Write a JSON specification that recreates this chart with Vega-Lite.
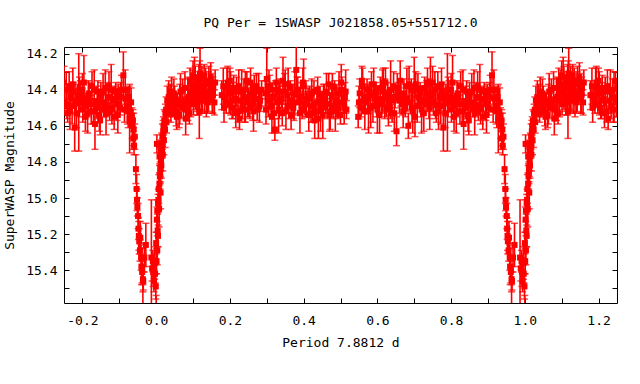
{
"$schema": "https://vega.github.io/schema/vega-lite/v6.json",
"width": 553, "height": 256,
"autosize": "none",
"padding": {"left": 64, "top": 47, "right": 23, "bottom": 81},
"background": "white",
"config": {"view": {"stroke": "black", "strokeWidth": 1}, "font": "DejaVu Sans Mono"},
"title": {"text": "PQ Per = 1SWASP J021858.05+551712.0", "fontSize": 13, "fontWeight": "normal", "font": "DejaVu Sans Mono", "color": "black", "offset": 17},
"datasets": {"d": [
{"p":-0.248,"m":14.47,"e":0.07},{"p":-0.244,"m":14.40,"e":0.10},{"p":-0.240,"m":14.53,"e":0.05},{"p":-0.236,"m":14.38,"e":0.08},{"p":-0.232,"m":14.44,"e":0.06},{"p":-0.228,"m":14.49,"e":0.10},{"p":-0.224,"m":14.41,"e":0.05},{"p":-0.221,"m":14.61,"e":0.13},{"p":-0.218,"m":14.46,"e":0.07},{"p":-0.214,"m":14.43,"e":0.06},{"p":-0.210,"m":14.47,"e":0.27},{"p":-0.206,"m":14.40,"e":0.05},
{"p":-0.202,"m":14.44,"e":0.05},{"p":-0.199,"m":14.51,"e":0.07},{"p":-0.196,"m":14.36,"e":0.15},{"p":-0.193,"m":14.49,"e":0.06},{"p":-0.190,"m":14.46,"e":0.04},{"p":-0.186,"m":14.53,"e":0.11},{"p":-0.182,"m":14.42,"e":0.06},{"p":-0.178,"m":14.48,"e":0.05},{"p":-0.174,"m":14.38,"e":0.08},{"p":-0.170,"m":14.52,"e":0.07},{"p":-0.166,"m":14.59,"e":0.14},{"p":-0.162,"m":14.50,"e":0.05},{"p":-0.158,"m":14.41,"e":0.06},{"p":-0.154,"m":14.54,"e":0.09},{"p":-0.150,"m":14.43,"e":0.07},{"p":-0.146,"m":14.47,"e":0.05},{"p":-0.142,"m":14.51,"e":0.04},{"p":-0.138,"m":14.39,"e":0.10},{"p":-0.134,"m":14.49,"e":0.06},{"p":-0.130,"m":14.44,"e":0.08},{"p":-0.126,"m":14.52,"e":0.05},{"p":-0.122,"m":14.40,"e":0.14},{"p":-0.118,"m":14.46,"e":0.06},{"p":-0.114,"m":14.55,"e":0.07},{"p":-0.110,"m":14.41,"e":0.05},{"p":-0.106,"m":14.48,"e":0.09},{"p":-0.102,"m":14.43,"e":0.06},{"p":-0.098,"m":14.50,"e":0.04},{"p":-0.094,"m":14.40,"e":0.08},{"p":-0.089,"m":14.32,"e":0.13},{"p":-0.086,"m":14.51,"e":0.07},{"p":-0.082,"m":14.45,"e":0.05},{"p":-0.078,"m":14.49,"e":0.10},{"p":-0.074,"m":14.44,"e":0.06},{"p":-0.072,"m":14.56,"e":0.19},
{"p":-0.070,"m":14.52,"e":0.06},{"p":-0.068,"m":14.47,"e":0.08},{"p":-0.066,"m":14.55,"e":0.05},{"p":-0.065,"m":14.60,"e":0.07},{"p":-0.063,"m":14.57,"e":0.06},{"p":-0.062,"m":14.67,"e":0.06},{"p":-0.061,"m":14.62,"e":0.09},{"p":-0.060,"m":14.71,"e":0.05},{"p":-0.058,"m":14.66,"e":0.07},{"p":-0.055,"m":14.84,"e":0.08},{"p":-0.053,"m":14.95,"e":0.08},{"p":-0.052,"m":15.01,"e":0.06},{"p":-0.051,"m":15.05,"e":0.05},{"p":-0.049,"m":15.10,"e":0.07},{"p":-0.048,"m":15.17,"e":0.06},{"p":-0.047,"m":15.21,"e":0.08},{"p":-0.046,"m":15.24,"e":0.07},{"p":-0.044,"m":15.29,"e":0.06},{"p":-0.043,"m":15.22,"e":0.09},{"p":-0.041,"m":15.33,"e":0.07},{"p":-0.040,"m":15.38,"e":0.10},{"p":-0.038,"m":15.41,"e":0.06},{"p":-0.036,"m":15.45,"e":0.07},{"p":-0.036,"m":15.62,"e":0.14},{"p":-0.035,"m":15.46,"e":0.05},{"p":-0.032,"m":15.33,"e":0.08},{"p":-0.028,"m":15.26,"e":0.12},
{"p":-0.013,"m":15.33,"e":0.32},{"p":-0.011,"m":15.39,"e":0.07},{"p":-0.009,"m":15.35,"e":0.06},{"p":-0.008,"m":15.41,"e":0.08},{"p":-0.006,"m":15.46,"e":0.06},{"p":-0.004,"m":15.36,"e":0.09},{"p":-0.003,"m":15.42,"e":0.05},{"p":-0.001,"m":15.49,"e":0.07},
{"p":0.000,"m":15.62,"e":0.08},{"p":0.000,"m":15.25,"e":0.06},{"p":0.001,"m":15.35,"e":0.07},{"p":0.002,"m":15.12,"e":0.07},{"p":0.002,"m":14.70,"e":0.05},{"p":0.003,"m":15.07,"e":0.06},{"p":0.003,"m":15.29,"e":0.08},{"p":0.004,"m":15.18,"e":0.09},{"p":0.005,"m":15.03,"e":0.05},{"p":0.005,"m":15.21,"e":0.06},{"p":0.006,"m":15.01,"e":0.06},{"p":0.007,"m":14.95,"e":0.08},{"p":0.008,"m":15.06,"e":0.10},{"p":0.009,"m":14.92,"e":0.06},{"p":0.009,"m":14.77,"e":0.05},{"p":0.010,"m":14.88,"e":0.07},{"p":0.011,"m":14.86,"e":0.06},{"p":0.011,"m":14.83,"e":0.08},{"p":0.012,"m":14.97,"e":0.09},{"p":0.013,"m":14.79,"e":0.06},{"p":0.013,"m":14.73,"e":0.05},{"p":0.014,"m":14.82,"e":0.07},{"p":0.015,"m":14.70,"e":0.06},{"p":0.016,"m":14.73,"e":0.05},{"p":0.017,"m":14.66,"e":0.07},{"p":0.018,"m":14.76,"e":0.09},{"p":0.019,"m":14.63,"e":0.06},{"p":0.020,"m":14.60,"e":0.05},{"p":0.021,"m":14.68,"e":0.08},{"p":0.022,"m":14.57,"e":0.06},{"p":0.024,"m":14.62,"e":0.10},{"p":0.025,"m":14.53,"e":0.05},{"p":0.027,"m":14.51,"e":0.07},{"p":0.028,"m":14.58,"e":0.06},{"p":0.030,"m":14.46,"e":0.08},{"p":0.032,"m":14.52,"e":0.05},{"p":0.034,"m":14.44,"e":0.09},{"p":0.036,"m":14.49,"e":0.06},{"p":0.038,"m":14.44,"e":0.07},{"p":0.040,"m":14.53,"e":0.05},{"p":0.042,"m":14.41,"e":0.08},{"p":0.044,"m":14.47,"e":0.06},
{"p":0.046,"m":14.49,"e":0.06},{"p":0.050,"m":14.43,"e":0.05},{"p":0.054,"m":14.52,"e":0.08},{"p":0.058,"m":14.46,"e":0.04},{"p":0.062,"m":14.54,"e":0.07},{"p":0.066,"m":14.41,"e":0.10},{"p":0.070,"m":14.47,"e":0.05},{"p":0.074,"m":14.50,"e":0.06},{"p":0.078,"m":14.39,"e":0.09},{"p":0.082,"m":14.51,"e":0.05},{"p":0.086,"m":14.45,"e":0.12},{"p":0.090,"m":14.53,"e":0.06},
{"p":0.092,"m":14.35,"e":0.07},{"p":0.095,"m":14.41,"e":0.04},{"p":0.098,"m":14.37,"e":0.08},{"p":0.101,"m":14.48,"e":0.06},{"p":0.104,"m":14.33,"e":0.11},{"p":0.107,"m":14.42,"e":0.05},{"p":0.110,"m":14.45,"e":0.07},{"p":0.113,"m":14.36,"e":0.06},{"p":0.116,"m":14.40,"e":0.14},{"p":0.117,"m":14.52,"e":0.15},{"p":0.119,"m":14.31,"e":0.14},{"p":0.122,"m":14.43,"e":0.08},{"p":0.125,"m":14.46,"e":0.06},{"p":0.128,"m":14.38,"e":0.05},{"p":0.131,"m":14.44,"e":0.09},{"p":0.134,"m":14.35,"e":0.07},{"p":0.137,"m":14.41,"e":0.04},{"p":0.140,"m":14.47,"e":0.06},{"p":0.143,"m":14.37,"e":0.10},{"p":0.146,"m":14.42,"e":0.06},{"p":0.149,"m":14.36,"e":0.05},{"p":0.152,"m":14.45,"e":0.08},{"p":0.155,"m":14.39,"e":0.04},{"p":0.158,"m":14.47,"e":0.07},
{"p":0.178,"m":14.43,"e":0.08},
{"p":0.182,"m":14.38,"e":0.10},{"p":0.186,"m":14.44,"e":0.05},{"p":0.190,"m":14.47,"e":0.06},{"p":0.194,"m":14.36,"e":0.09},{"p":0.198,"m":14.48,"e":0.05},{"p":0.202,"m":14.42,"e":0.12},{"p":0.206,"m":14.50,"e":0.06},{"p":0.210,"m":14.39,"e":0.07},{"p":0.214,"m":14.45,"e":0.04},{"p":0.218,"m":14.41,"e":0.08},{"p":0.222,"m":14.52,"e":0.06},{"p":0.226,"m":14.56,"e":0.06},{"p":0.230,"m":14.46,"e":0.05},{"p":0.234,"m":14.49,"e":0.07},{"p":0.238,"m":14.40,"e":0.06},{"p":0.242,"m":14.44,"e":0.14},{"p":0.246,"m":14.35,"e":0.05},{"p":0.250,"m":14.47,"e":0.08},{"p":0.254,"m":14.50,"e":0.06},{"p":0.258,"m":14.42,"e":0.05},{"p":0.262,"m":14.48,"e":0.09},{"p":0.266,"m":14.39,"e":0.07},{"p":0.270,"m":14.45,"e":0.04},{"p":0.274,"m":14.51,"e":0.06},{"p":0.278,"m":14.41,"e":0.10},{"p":0.282,"m":14.46,"e":0.06},{"p":0.286,"m":14.40,"e":0.05},
{"p":0.296,"m":14.42,"e":0.07},{"p":0.300,"m":14.34,"e":0.17},{"p":0.304,"m":14.46,"e":0.09},{"p":0.308,"m":14.38,"e":0.06},{"p":0.312,"m":14.49,"e":0.04},{"p":0.316,"m":14.44,"e":0.08},{"p":0.320,"m":14.53,"e":0.11},{"p":0.322,"m":14.62,"e":0.06},{"p":0.324,"m":14.40,"e":0.05},{"p":0.328,"m":14.47,"e":0.06},{"p":0.332,"m":14.51,"e":0.13},{"p":0.336,"m":14.41,"e":0.07},{"p":0.340,"m":14.45,"e":0.05},{"p":0.344,"m":14.35,"e":0.13},{"p":0.348,"m":14.37,"e":0.06},{"p":0.352,"m":14.52,"e":0.10},{"p":0.356,"m":14.43,"e":0.05},{"p":0.360,"m":14.49,"e":0.07},{"p":0.364,"m":14.39,"e":0.04},{"p":0.368,"m":14.46,"e":0.09},{"p":0.372,"m":14.50,"e":0.06},{"p":0.376,"m":14.42,"e":0.12},{"p":0.380,"m":14.29,"e":0.15},{"p":0.384,"m":14.40,"e":0.07},{"p":0.388,"m":14.47,"e":0.06},{"p":0.392,"m":14.44,"e":0.08},{"p":0.396,"m":14.51,"e":0.05},{"p":0.400,"m":14.38,"e":0.15},{"p":0.404,"m":14.48,"e":0.06},{"p":0.408,"m":14.48,"e":0.07},{"p":0.412,"m":14.44,"e":0.05},{"p":0.416,"m":14.45,"e":0.07},{"p":0.420,"m":14.53,"e":0.05},{"p":0.424,"m":14.49,"e":0.09},{"p":0.428,"m":14.41,"e":0.06},{"p":0.432,"m":14.52,"e":0.04},{"p":0.436,"m":14.47,"e":0.08},{"p":0.440,"m":14.56,"e":0.11},{"p":0.444,"m":14.43,"e":0.05},{"p":0.448,"m":14.50,"e":0.06},{"p":0.452,"m":14.54,"e":0.13},{"p":0.456,"m":14.44,"e":0.07},{"p":0.460,"m":14.48,"e":0.05},{"p":0.464,"m":14.48,"e":0.08},{"p":0.468,"m":14.37,"e":0.06},{"p":0.472,"m":14.52,"e":0.10},{"p":0.476,"m":14.43,"e":0.05},{"p":0.480,"m":14.49,"e":0.07},{"p":0.484,"m":14.39,"e":0.04},{"p":0.488,"m":14.46,"e":0.09},{"p":0.492,"m":14.50,"e":0.06},{"p":0.496,"m":14.42,"e":0.12},{"p":0.500,"m":14.54,"e":0.05},{"p":0.504,"m":14.40,"e":0.07},{"p":0.508,"m":14.47,"e":0.06},{"p":0.512,"m":14.44,"e":0.08},{"p":0.516,"m":14.51,"e":0.05},
{"p":0.548,"m":14.55,"e":0.06},{"p":0.552,"m":14.42,"e":0.08},{"p":0.556,"m":14.50,"e":0.05},{"p":0.560,"m":14.38,"e":0.10},{"p":0.564,"m":14.45,"e":0.07},{"p":0.568,"m":14.47,"e":0.04},{"p":0.572,"m":14.40,"e":0.06},{"p":0.576,"m":14.52,"e":0.12},{"p":0.580,"m":14.43,"e":0.05},{"p":0.584,"m":14.37,"e":0.07},{"p":0.588,"m":14.49,"e":0.09},{"p":0.592,"m":14.44,"e":0.06},{"p":0.596,"m":14.41,"e":0.05},{"p":0.600,"m":14.51,"e":0.13},{"p":0.604,"m":14.46,"e":0.07},{"p":0.608,"m":14.39,"e":0.06},{"p":0.612,"m":14.48,"e":0.04},{"p":0.616,"m":14.36,"e":0.08},{"p":0.620,"m":14.45,"e":0.11},{"p":0.624,"m":14.50,"e":0.05},{"p":0.628,"m":14.42,"e":0.06},{"p":0.632,"m":14.47,"e":0.07},{"p":0.636,"m":14.40,"e":0.16},{"p":0.640,"m":14.53,"e":0.05},{"p":0.644,"m":14.38,"e":0.08},{"p":0.648,"m":14.44,"e":0.06},{"p":0.652,"m":14.63,"e":0.08},{"p":0.656,"m":14.41,"e":0.05},{"p":0.660,"m":14.46,"e":0.07},{"p":0.664,"m":14.43,"e":0.06},{"p":0.668,"m":14.48,"e":0.06},{"p":0.672,"m":14.42,"e":0.08},{"p":0.676,"m":14.50,"e":0.05},{"p":0.680,"m":14.38,"e":0.10},{"p":0.684,"m":14.60,"e":0.07},{"p":0.688,"m":14.47,"e":0.04},{"p":0.692,"m":14.40,"e":0.06},{"p":0.696,"m":14.52,"e":0.12},{"p":0.700,"m":14.38,"e":0.16},{"p":0.704,"m":14.37,"e":0.07},{"p":0.708,"m":14.49,"e":0.09},{"p":0.712,"m":14.44,"e":0.06},{"p":0.716,"m":14.41,"e":0.05},{"p":0.720,"m":14.51,"e":0.13},{"p":0.724,"m":14.46,"e":0.07},{"p":0.728,"m":14.39,"e":0.06},{"p":0.732,"m":14.48,"e":0.04},{"p":0.736,"m":14.36,"e":0.08},{"p":0.740,"m":14.45,"e":0.11},{"p":0.744,"m":14.37,"e":0.15},{"p":0.748,"m":14.42,"e":0.06},
{"p":0.752,"m":14.47,"e":0.07},{"p":0.756,"m":14.40,"e":0.10},{"p":0.760,"m":14.53,"e":0.05},{"p":0.764,"m":14.38,"e":0.08},{"p":0.768,"m":14.44,"e":0.06},{"p":0.772,"m":14.49,"e":0.10},{"p":0.776,"m":14.41,"e":0.05},{"p":0.779,"m":14.61,"e":0.13},{"p":0.782,"m":14.46,"e":0.07},{"p":0.786,"m":14.43,"e":0.06},{"p":0.790,"m":14.47,"e":0.27},{"p":0.794,"m":14.40,"e":0.05},
{"p":0.798,"m":14.44,"e":0.05},{"p":0.801,"m":14.51,"e":0.07},{"p":0.804,"m":14.36,"e":0.15},{"p":0.807,"m":14.49,"e":0.06},{"p":0.810,"m":14.46,"e":0.04},{"p":0.814,"m":14.53,"e":0.11},{"p":0.818,"m":14.42,"e":0.06},{"p":0.822,"m":14.48,"e":0.05},{"p":0.826,"m":14.38,"e":0.08},{"p":0.830,"m":14.52,"e":0.07},{"p":0.834,"m":14.59,"e":0.14},{"p":0.838,"m":14.50,"e":0.05},{"p":0.842,"m":14.41,"e":0.06},{"p":0.846,"m":14.54,"e":0.09},{"p":0.850,"m":14.43,"e":0.07},{"p":0.854,"m":14.47,"e":0.05},{"p":0.858,"m":14.51,"e":0.04},{"p":0.862,"m":14.39,"e":0.10},{"p":0.866,"m":14.49,"e":0.06},{"p":0.870,"m":14.44,"e":0.08},{"p":0.874,"m":14.52,"e":0.05},{"p":0.878,"m":14.40,"e":0.14},{"p":0.882,"m":14.46,"e":0.06},{"p":0.886,"m":14.55,"e":0.07},{"p":0.890,"m":14.41,"e":0.05},{"p":0.894,"m":14.48,"e":0.09},{"p":0.898,"m":14.43,"e":0.06},{"p":0.902,"m":14.50,"e":0.04},{"p":0.906,"m":14.40,"e":0.08},{"p":0.911,"m":14.32,"e":0.13},{"p":0.914,"m":14.51,"e":0.07},{"p":0.918,"m":14.45,"e":0.05},{"p":0.922,"m":14.49,"e":0.10},{"p":0.926,"m":14.44,"e":0.06},{"p":0.928,"m":14.56,"e":0.19},
{"p":0.930,"m":14.52,"e":0.06},{"p":0.932,"m":14.47,"e":0.08},{"p":0.934,"m":14.55,"e":0.05},{"p":0.935,"m":14.60,"e":0.07},{"p":0.937,"m":14.57,"e":0.06},{"p":0.938,"m":14.67,"e":0.06},{"p":0.939,"m":14.62,"e":0.09},{"p":0.940,"m":14.71,"e":0.05},{"p":0.942,"m":14.66,"e":0.07},{"p":0.945,"m":14.84,"e":0.08},{"p":0.947,"m":14.95,"e":0.08},{"p":0.948,"m":15.01,"e":0.06},{"p":0.949,"m":15.05,"e":0.05},{"p":0.951,"m":15.10,"e":0.07},{"p":0.952,"m":15.17,"e":0.06},{"p":0.953,"m":15.21,"e":0.08},{"p":0.954,"m":15.24,"e":0.07},{"p":0.956,"m":15.29,"e":0.06},{"p":0.957,"m":15.22,"e":0.09},{"p":0.959,"m":15.33,"e":0.07},{"p":0.960,"m":15.38,"e":0.10},{"p":0.962,"m":15.41,"e":0.06},{"p":0.964,"m":15.45,"e":0.07},{"p":0.964,"m":15.62,"e":0.14},{"p":0.965,"m":15.46,"e":0.05},{"p":0.968,"m":15.33,"e":0.08},{"p":0.972,"m":15.26,"e":0.12},
{"p":0.987,"m":15.33,"e":0.32},{"p":0.989,"m":15.39,"e":0.07},{"p":0.991,"m":15.35,"e":0.06},{"p":0.992,"m":15.41,"e":0.08},{"p":0.994,"m":15.46,"e":0.06},{"p":0.996,"m":15.36,"e":0.09},{"p":0.997,"m":15.42,"e":0.05},{"p":0.999,"m":15.49,"e":0.07},
{"p":1.000,"m":15.62,"e":0.08},{"p":1.000,"m":15.25,"e":0.06},{"p":1.001,"m":15.35,"e":0.07},{"p":1.002,"m":15.12,"e":0.07},{"p":1.002,"m":14.70,"e":0.05},{"p":1.003,"m":15.07,"e":0.06},{"p":1.003,"m":15.29,"e":0.08},{"p":1.004,"m":15.18,"e":0.09},{"p":1.005,"m":15.03,"e":0.05},{"p":1.005,"m":15.21,"e":0.06},{"p":1.006,"m":15.01,"e":0.06},{"p":1.007,"m":14.95,"e":0.08},{"p":1.008,"m":15.06,"e":0.10},{"p":1.009,"m":14.92,"e":0.06},{"p":1.009,"m":14.77,"e":0.05},{"p":1.010,"m":14.88,"e":0.07},{"p":1.011,"m":14.86,"e":0.06},{"p":1.011,"m":14.83,"e":0.08},{"p":1.012,"m":14.97,"e":0.09},{"p":1.013,"m":14.79,"e":0.06},{"p":1.013,"m":14.73,"e":0.05},{"p":1.014,"m":14.82,"e":0.07},{"p":1.015,"m":14.70,"e":0.06},{"p":1.016,"m":14.73,"e":0.05},{"p":1.017,"m":14.66,"e":0.07},{"p":1.018,"m":14.76,"e":0.09},{"p":1.019,"m":14.63,"e":0.06},{"p":1.020,"m":14.60,"e":0.05},{"p":1.021,"m":14.68,"e":0.08},{"p":1.022,"m":14.57,"e":0.06},{"p":1.024,"m":14.62,"e":0.10},{"p":1.025,"m":14.53,"e":0.05},{"p":1.027,"m":14.51,"e":0.07},{"p":1.028,"m":14.58,"e":0.06},{"p":1.030,"m":14.46,"e":0.08},{"p":1.032,"m":14.52,"e":0.05},{"p":1.034,"m":14.44,"e":0.09},{"p":1.036,"m":14.49,"e":0.06},{"p":1.038,"m":14.44,"e":0.07},{"p":1.040,"m":14.53,"e":0.05},{"p":1.042,"m":14.41,"e":0.08},{"p":1.044,"m":14.47,"e":0.06},
{"p":1.046,"m":14.49,"e":0.06},{"p":1.050,"m":14.43,"e":0.05},{"p":1.054,"m":14.52,"e":0.08},{"p":1.058,"m":14.46,"e":0.04},{"p":1.062,"m":14.54,"e":0.07},{"p":1.066,"m":14.41,"e":0.10},{"p":1.070,"m":14.47,"e":0.05},{"p":1.074,"m":14.50,"e":0.06},{"p":1.078,"m":14.39,"e":0.09},{"p":1.082,"m":14.51,"e":0.05},{"p":1.086,"m":14.45,"e":0.12},{"p":1.090,"m":14.53,"e":0.06},
{"p":1.092,"m":14.35,"e":0.07},{"p":1.095,"m":14.41,"e":0.04},{"p":1.098,"m":14.37,"e":0.08},{"p":1.101,"m":14.48,"e":0.06},{"p":1.104,"m":14.33,"e":0.11},{"p":1.107,"m":14.42,"e":0.05},{"p":1.110,"m":14.45,"e":0.07},{"p":1.113,"m":14.36,"e":0.06},{"p":1.116,"m":14.40,"e":0.14},{"p":1.117,"m":14.52,"e":0.15},{"p":1.119,"m":14.31,"e":0.14},{"p":1.122,"m":14.43,"e":0.08},{"p":1.125,"m":14.46,"e":0.06},{"p":1.128,"m":14.38,"e":0.05},{"p":1.131,"m":14.44,"e":0.09},{"p":1.134,"m":14.35,"e":0.07},{"p":1.137,"m":14.41,"e":0.04},{"p":1.140,"m":14.47,"e":0.06},{"p":1.143,"m":14.37,"e":0.10},{"p":1.146,"m":14.42,"e":0.06},{"p":1.149,"m":14.36,"e":0.05},{"p":1.152,"m":14.45,"e":0.08},{"p":1.155,"m":14.39,"e":0.04},{"p":1.158,"m":14.47,"e":0.07},
{"p":1.178,"m":14.43,"e":0.08},
{"p":1.182,"m":14.38,"e":0.10},{"p":1.186,"m":14.44,"e":0.05},{"p":1.190,"m":14.47,"e":0.06},{"p":1.194,"m":14.36,"e":0.09},{"p":1.198,"m":14.48,"e":0.05},{"p":1.202,"m":14.42,"e":0.12},{"p":1.206,"m":14.50,"e":0.06},{"p":1.210,"m":14.39,"e":0.07},{"p":1.214,"m":14.45,"e":0.04},{"p":1.218,"m":14.41,"e":0.08},{"p":1.222,"m":14.52,"e":0.06},{"p":1.226,"m":14.56,"e":0.06},{"p":1.230,"m":14.46,"e":0.05},{"p":1.234,"m":14.49,"e":0.07},{"p":1.238,"m":14.40,"e":0.06},{"p":1.242,"m":14.44,"e":0.14},{"p":1.246,"m":14.35,"e":0.05},{"p":1.250,"m":14.47,"e":0.08},
{"p":0.048,"m":14.42,"e":0.08},{"p":0.056,"m":14.55,"e":0.07},{"p":0.064,"m":14.48,"e":0.11},{"p":0.072,"m":14.40,"e":0.06},{"p":0.080,"m":14.56,"e":0.09},{"p":0.088,"m":14.44,"e":0.10},{"p":0.094,"m":14.46,"e":0.09},{"p":0.100,"m":14.32,"e":0.08},{"p":0.106,"m":14.39,"e":0.12},{"p":0.112,"m":14.47,"e":0.07},{"p":0.118,"m":14.34,"e":0.10},{"p":0.124,"m":14.40,"e":0.13},{"p":0.130,"m":14.32,"e":0.06},{"p":0.136,"m":14.46,"e":0.09},{"p":0.142,"m":14.41,"e":0.11},{"p":0.148,"m":14.33,"e":0.08},{"p":0.154,"m":14.43,"e":0.10},{"p":0.160,"m":14.36,"e":0.07},
{"p":0.184,"m":14.50,"e":0.08},{"p":0.192,"m":14.39,"e":0.11},{"p":0.200,"m":14.35,"e":0.07},{"p":0.208,"m":14.46,"e":0.10},{"p":0.216,"m":14.53,"e":0.08},{"p":0.224,"m":14.38,"e":0.09},{"p":0.232,"m":14.41,"e":0.12},{"p":0.240,"m":14.51,"e":0.07},{"p":0.248,"m":14.45,"e":0.10},{"p":0.256,"m":14.36,"e":0.08},{"p":0.264,"m":14.52,"e":0.11},{"p":0.272,"m":14.38,"e":0.07},{"p":0.280,"m":14.49,"e":0.09},
{"p":0.298,"m":14.51,"e":0.08},{"p":0.306,"m":14.40,"e":0.11},{"p":0.314,"m":14.55,"e":0.09},{"p":0.326,"m":14.36,"e":0.08},{"p":0.334,"m":14.46,"e":0.10},{"p":0.342,"m":14.53,"e":0.07},{"p":0.350,"m":14.41,"e":0.12},{"p":0.358,"m":14.37,"e":0.09},{"p":0.366,"m":14.54,"e":0.08},{"p":0.374,"m":14.47,"e":0.10},{"p":0.382,"m":14.40,"e":0.07},{"p":0.390,"m":14.53,"e":0.11},{"p":0.398,"m":14.36,"e":0.08},{"p":0.406,"m":14.45,"e":0.10},{"p":0.414,"m":14.54,"e":0.09},{"p":0.422,"m":14.42,"e":0.08},{"p":0.430,"m":14.57,"e":0.10},{"p":0.438,"m":14.40,"e":0.07},{"p":0.446,"m":14.52,"e":0.11},{"p":0.454,"m":14.45,"e":0.08},{"p":0.462,"m":14.41,"e":0.10},{"p":0.470,"m":14.54,"e":0.09},{"p":0.478,"m":14.38,"e":0.07},{"p":0.486,"m":14.52,"e":0.11},{"p":0.494,"m":14.47,"e":0.08},{"p":0.502,"m":14.36,"e":0.10},{"p":0.510,"m":14.50,"e":0.09},{"p":0.514,"m":14.41,"e":0.12},
{"p":0.550,"m":14.47,"e":0.09},{"p":0.558,"m":14.35,"e":0.08},{"p":0.566,"m":14.52,"e":0.10},{"p":0.574,"m":14.44,"e":0.07},{"p":0.582,"m":14.50,"e":0.11},{"p":0.590,"m":14.37,"e":0.09},{"p":0.598,"m":14.47,"e":0.08},{"p":0.606,"m":14.54,"e":0.10},{"p":0.614,"m":14.41,"e":0.12},{"p":0.622,"m":14.36,"e":0.08},{"p":0.630,"m":14.51,"e":0.09},{"p":0.638,"m":14.46,"e":0.07},{"p":0.646,"m":14.53,"e":0.10},{"p":0.654,"m":14.39,"e":0.08},{"p":0.662,"m":14.35,"e":0.11},{"p":0.670,"m":14.52,"e":0.09},{"p":0.678,"m":14.45,"e":0.07},{"p":0.686,"m":14.37,"e":0.10},{"p":0.694,"m":14.50,"e":0.08},{"p":0.702,"m":14.55,"e":0.11},{"p":0.710,"m":14.40,"e":0.09},{"p":0.718,"m":14.47,"e":0.08},{"p":0.726,"m":14.53,"e":0.10},{"p":0.734,"m":14.42,"e":0.07},{"p":0.742,"m":14.50,"e":0.12},{"p":0.750,"m":14.36,"e":0.09},{"p":0.758,"m":14.48,"e":0.08},{"p":0.766,"m":14.52,"e":0.10},{"p":0.774,"m":14.37,"e":0.09},{"p":0.784,"m":14.53,"e":0.08},{"p":0.792,"m":14.44,"e":0.11},
{"p":0.800,"m":14.40,"e":0.09},{"p":0.808,"m":14.55,"e":0.08},{"p":0.816,"m":14.45,"e":0.10},{"p":0.824,"m":14.52,"e":0.07},{"p":0.832,"m":14.40,"e":0.11},{"p":0.840,"m":14.47,"e":0.09},{"p":0.848,"m":14.57,"e":0.08},{"p":0.856,"m":14.41,"e":0.10},{"p":0.864,"m":14.53,"e":0.12},{"p":0.872,"m":14.38,"e":0.08},{"p":0.880,"m":14.50,"e":0.09},{"p":0.888,"m":14.45,"e":0.07},{"p":0.896,"m":14.54,"e":0.10},{"p":0.904,"m":14.44,"e":0.08},{"p":0.916,"m":14.40,"e":0.11},{"p":0.924,"m":14.52,"e":0.09},
{"p":-0.250,"m":14.36,"e":0.09},{"p":-0.242,"m":14.48,"e":0.08},{"p":-0.234,"m":14.52,"e":0.10},{"p":-0.226,"m":14.37,"e":0.09},{"p":-0.216,"m":14.53,"e":0.08},{"p":-0.208,"m":14.44,"e":0.11},
{"p":-0.200,"m":14.40,"e":0.09},{"p":-0.192,"m":14.55,"e":0.08},{"p":-0.184,"m":14.45,"e":0.10},{"p":-0.176,"m":14.52,"e":0.07},{"p":-0.168,"m":14.40,"e":0.11},{"p":-0.160,"m":14.47,"e":0.09},{"p":-0.152,"m":14.57,"e":0.08},{"p":-0.144,"m":14.41,"e":0.10},{"p":-0.136,"m":14.53,"e":0.12},{"p":-0.128,"m":14.38,"e":0.08},{"p":-0.120,"m":14.50,"e":0.09},{"p":-0.112,"m":14.45,"e":0.07},{"p":-0.104,"m":14.54,"e":0.10},{"p":-0.096,"m":14.44,"e":0.08},{"p":-0.084,"m":14.40,"e":0.11},{"p":-0.076,"m":14.52,"e":0.09},
{"p":1.048,"m":14.42,"e":0.08},{"p":1.056,"m":14.55,"e":0.07},{"p":1.064,"m":14.48,"e":0.11},{"p":1.072,"m":14.40,"e":0.06},{"p":1.080,"m":14.56,"e":0.09},{"p":1.088,"m":14.44,"e":0.10},{"p":1.094,"m":14.46,"e":0.09},{"p":1.100,"m":14.32,"e":0.08},{"p":1.106,"m":14.39,"e":0.12},{"p":1.112,"m":14.47,"e":0.07},{"p":1.118,"m":14.34,"e":0.10},{"p":1.124,"m":14.40,"e":0.13},{"p":1.130,"m":14.32,"e":0.06},{"p":1.136,"m":14.46,"e":0.09},{"p":1.142,"m":14.41,"e":0.11},{"p":1.148,"m":14.33,"e":0.08},{"p":1.154,"m":14.43,"e":0.10},{"p":1.160,"m":14.36,"e":0.07},
{"p":1.184,"m":14.50,"e":0.08},{"p":1.192,"m":14.39,"e":0.11},{"p":1.200,"m":14.35,"e":0.07},{"p":1.208,"m":14.46,"e":0.10},{"p":1.216,"m":14.53,"e":0.08},{"p":1.224,"m":14.38,"e":0.09},{"p":1.232,"m":14.41,"e":0.12},{"p":1.240,"m":14.51,"e":0.07},{"p":1.248,"m":14.45,"e":0.10}
]},
"data": {"name": "d"},
"layer": [
{"mark": {"type": "errorbar", "color": "#ff0000", "clip": true, "ticks": {"size": 7, "thickness": 1.5, "color": "#ff0000"}, "rule": {"color": "#ff0000", "strokeWidth": 1.6}},
 "encoding": {
  "x": {"field": "p", "type": "quantitative", "scale": {"domain": [-0.25, 1.25], "nice": false, "zero": false},
        "axis": {"orient": "bottom", "values": [-0.2,-0.1,0,0.1,0.2,0.3,0.4,0.5,0.6,0.7,0.8,0.9,1,1.1,1.2],
                 "labelExpr": "round(datum.value*10)%2==0 ? replace(format(datum.value,'.1f'),'\u2212','-') : ''",
                 "title": "Period 7.8812 d", "tickSize": -5, "labelPadding": 16, "domain": false, "grid": false,
                 "labelFont": "DejaVu Sans Mono", "titleFont": "DejaVu Sans Mono", "labelFontSize": 13, "titleFontSize": 13, "titleFontWeight": "normal",
                 "labelColor": "black", "titleColor": "black", "tickColor": "black", "labelFlush": false, "labelOverlap": false, "titlePadding": 9}},
  "y": {"field": "m", "type": "quantitative", "scale": {"domain": [14.163, 15.582], "reverse": true, "nice": false, "zero": false},
        "axis": {"orient": "left", "values": [14.2,14.3,14.4,14.5,14.6,14.7,14.8,14.9,15.0,15.1,15.2,15.3,15.4,15.5],
                 "labelExpr": "round(datum.value*10)%2==0 ? format(datum.value,'.1f') : ''",
                 "title": "SuperWASP Magnitude", "tickSize": -5, "labelPadding": 12, "domain": false, "grid": false,
                 "labelFont": "DejaVu Sans Mono", "titleFont": "DejaVu Sans Mono", "labelFontSize": 13, "titleFontSize": 13, "titleFontWeight": "normal",
                 "labelColor": "black", "titleColor": "black", "tickColor": "black", "labelFlush": false, "labelOverlap": false, "titlePadding": 9}},
  "yError": {"field": "e"}
 }},
{"mark": {"type": "point", "shape": "square", "filled": true, "size": 36, "color": "#ff0000", "opacity": 1, "clip": true},
 "encoding": {
  "x": {"field": "p", "type": "quantitative",
        "axis": {"orient": "top", "values": [-0.2,-0.1,0,0.1,0.2,0.3,0.4,0.5,0.6,0.7,0.8,0.9,1,1.1,1.2], "labels": false, "title": null, "tickSize": -5, "domain": false, "grid": false, "tickColor": "black"}},
  "y": {"field": "m", "type": "quantitative",
        "axis": {"orient": "right", "values": [14.2,14.3,14.4,14.5,14.6,14.7,14.8,14.9,15.0,15.1,15.2,15.3,15.4,15.5], "labels": false, "title": null, "tickSize": -5, "domain": false, "grid": false, "tickColor": "black"}}
 }}
]
}
